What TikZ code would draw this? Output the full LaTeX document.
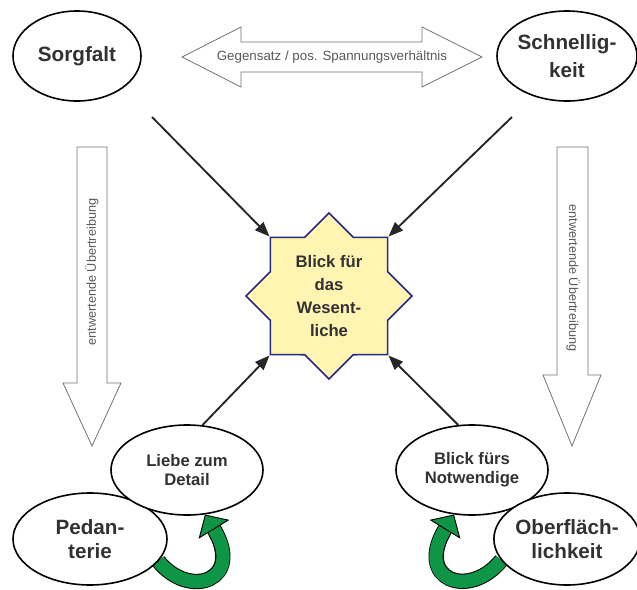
\documentclass[tikz,border=0pt]{standalone}
\usepackage{fontspec}
\setmainfont{Liberation Sans}
\usepackage{xcolor}
\usetikzlibrary{shapes.geometric,arrows.meta,backgrounds}

\definecolor{inkgray}{RGB}{50,50,50}
\definecolor{labelgray}{RGB}{90,90,90}
\definecolor{starfill}{RGB}{255,244,178}
\definecolor{starblue}{RGB}{40,40,130}
\definecolor{loopgreen}{RGB}{14,150,70}

\tikzset{
  bubble/.style={ellipse, draw=black, line width=1.2pt, fill=white, inner sep=0pt, align=center, text=inkgray, font=\bfseries\fontsize{15.5}{17.5}\selectfont},
  smallbubble/.style={bubble, font=\bfseries\fontsize{12.5}{14.5}\selectfont},
  wesen/.style={star, star points=8, star point ratio=1.3066, minimum size=124.5pt, inner sep=0pt, draw=starblue, line width=1.2pt, fill=starfill, align=center, text=inkgray, font=\bfseries\fontsize{12.5}{17.25}\selectfont},
  bigarrow/.style={draw=black!55, line width=0.6pt, fill=white},
  arrowlabel/.style={text=labelgray, font=\fontsize{9.5}{11}\selectfont, inner sep=0pt},
  pointer/.style={draw=black!85, line width=1.4pt, -{Triangle[length=11pt,width=8.5pt]}},
  greenloop/.style={draw=loopgreen, line width=10pt, -{Triangle[length=13pt,width=27pt,line width=0.7pt,fill=loopgreen,color=black]}, preaction={draw=black, line width=11.5pt, shorten >=12pt, arrows=-}}
}

\begin{document}
\begin{tikzpicture}[x=0.75pt,y=0.75pt,yscale=-1,xscale=1]
\useasboundingbox (0,0) rectangle (637,590);

%Shape: Double Arrow
\draw [bigarrow] (182,57) -- (241,27) -- (241,42) -- (422,42) -- (422,27) -- (482,57) -- (422,87) -- (422,72) -- (241,72) -- (241,87) -- cycle ;
%Shape: Arrow left
\draw [bigarrow] (77,147) -- (107,147) -- (107,383) -- (121,383) -- (92,446) -- (63,383) -- (77,383) -- cycle ;
%Shape: Arrow right
\draw [bigarrow] (557,147) -- (588,147) -- (588,375) -- (601,375) -- (572,446) -- (543,375) -- (557,375) -- cycle ;

% Text Node
\node [arrowlabel, font=\fontsize{10}{12}\selectfont] (gegensatz) at (332,57) {Gegensatz / pos. Spannungsverhältnis};
% Text Node
\node [arrowlabel, rotate=90] (uebertreibungL) at (92,272) {entwertende Übertreibung};
% Text Node
\node [arrowlabel, rotate=-90] (uebertreibungR) at (573,278) {entwertende Übertreibung};

% Ellipses
\node [bubble, minimum width=96pt, minimum height=67.5pt] (sorgfalt) at (77,56) {Sorgfalt};
\node [bubble, minimum width=105pt, minimum height=67.5pt] (schnell) at (567,56) {Schnellig-\\[3pt]keit};
\node [bubble, minimum width=115.5pt, minimum height=69pt] (pedanterie) at (90,539) {Pedan-\\terie};
\node [smallbubble, minimum width=114pt, minimum height=67.5pt] (liebe) at (187,470) {Liebe zum\\Detail};
\node [smallbubble, minimum width=114pt, minimum height=67.5pt] (notwendig) at (472,470) {Blick fürs\\Notwendige};
\node [bubble, minimum width=105pt, minimum height=69pt] (oberfl) at (567,539) {Oberfläch-\\lichkeit};

% Star
\node [wesen] (blick) at (329,296) {Blick für\\das\\Wesent-\\liche};

%Straight Lines
\coordinate (sorgfalt-out) at (152,117);
\coordinate (schnell-out) at (512,117);
\draw [pointer] (sorgfalt-out) -- (blick.135);
\draw [pointer] (schnell-out) -- (blick.45);
\draw [pointer] (liebe.71) -- (blick.-135);
\draw [pointer] (notwendig.107) -- (blick.-45);

%Curve Lines
\begin{scope}[on background layer]
\draw [greenloop] (pedanterie.-18) .. controls (190,600) and (245,580) .. (liebe.-68);
\draw [greenloop] (oberfl.198) .. controls (469,600) and (414,580) .. (notwendig.-112);
\end{scope}

\end{tikzpicture}
\end{document}
